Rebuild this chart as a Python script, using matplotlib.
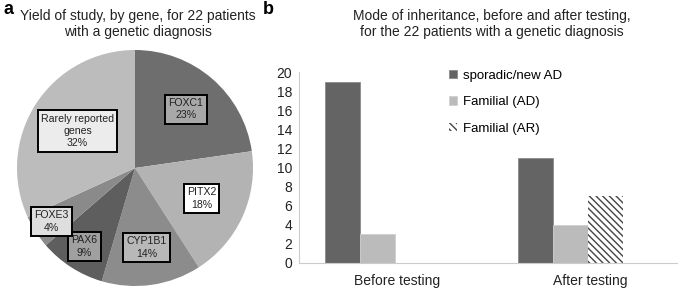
"""Panel a: yield by gene (pie); panel b: mode of inheritance before/after testing."""
import numpy as np
import matplotlib
matplotlib.use("Agg")
import matplotlib.pyplot as plt
from matplotlib import rcParams

rcParams["font.family"] = ["Liberation Sans", "DejaVu Sans"]
rcParams["font.size"] = 10
rcParams["hatch.linewidth"] = 1.0

# panel a data
genes = ["FOXC1", "PITX2", "CYP1B1", "PAX6", "FOXE3", "Rarely reported\ngenes"]
gene_counts = [5, 4, 3, 2, 1, 7]
gene_pct = ["23%", "18%", "14%", "9%", "4%", "32%"]
slice_colors = ["#6e6e6e", "#b3b3b3", "#8c8c8c", "#5e5e5e", "#8a8a8a", "#bcbcbc"]
box_colors = ["#a8a8a8", "#ffffff", "#b8b8b8", "#a0a0a0", "#dedede", "#ececec"]
label_dist = [0.66, 0.62, 0.68, 0.79, 0.84, 0.58]

# panel b data
groups = ["Before testing", "After testing"]
series = ["sporadic/new AD", "Familial (AD)", "Familial (AR)"]
sporadic = [19, 11]
fam_ad = [3, 4]
fam_ar = [0, 7]

W, H = 685, 288
fig = plt.figure(figsize=(W / 100, H / 100), dpi=100)

# ---- a: pie
axa = fig.add_axes([17 / W, 2 / H, 236 / W, 236 / H])
wedges, _ = axa.pie(gene_counts, colors=slice_colors, startangle=90,
                    counterclock=False, radius=1.0,
                    wedgeprops=dict(linewidth=0))
axa.set_xlim(-1, 1)
axa.set_ylim(-1, 1)
axa.set_aspect("equal")
axa.axis("off")
for w, g, p, bc, d in zip(wedges, genes, gene_pct, box_colors, label_dist):
    ang = np.deg2rad((w.theta1 + w.theta2) / 2)
    axa.text(d * np.cos(ang), d * np.sin(ang), f"{g}\n{p}", ha="center",
             va="center", fontsize=7.6, color="#222222", linespacing=1.3,
             bbox=dict(boxstyle="square,pad=0.3", fc=bc, ec="black", lw=1.4))

fig.text(3 / W, 1 - 10 / H, "a", fontsize=13, fontweight="bold", va="center")
fig.text(138 / W, 1 - 24 / H,
         "Yield of study, by gene, for 22 patients\nwith a genetic diagnosis",
         ha="center", va="center", fontsize=10, color="#222222", linespacing=1.15)

# ---- b: bars
axb = fig.add_axes([299 / W, 25 / H, 378 / W, 191 / H])
x = np.arange(len(groups))
w = 0.0925
start = x * 0.51 + 0.07
axb.bar(start, sporadic, w, align="edge", color="#646464", edgecolor="#8a8a8a",
        linewidth=0.6, label=series[0])
axb.bar(start + w, fam_ad, w, align="edge", color="#bbbbbb", edgecolor="#d0d0d0",
        linewidth=0.6, label=series[1])
axb.bar(start + 2 * w, fam_ar, w, align="edge", color="white", edgecolor="#444444",
        linewidth=0, hatch="\\\\\\\\\\", label=series[2])
axb.set_xlim(0, 1)
axb.set_ylim(0, 20)
axb.set_yticks(np.arange(0, 21, 2))
axb.set_xticks(start + 0.19)
axb.set_xticklabels(groups, fontsize=10)
axb.tick_params(length=0, labelsize=10, colors="#222222")
axb.tick_params(axis="x", pad=8)
axb.tick_params(axis="y", pad=5)
for s in ["top", "right"]:
    axb.spines[s].set_visible(False)
axb.spines["left"].set_color("#cccccc")
axb.spines["bottom"].set_color("#cccccc")
axb.legend(frameon=False, loc="upper left", bbox_to_anchor=(0.365, 1.075),
           handlelength=0.6, handleheight=0.6, handletextpad=0.5,
           labelspacing=1.1, fontsize=9.5)

fig.text(263 / W, 1 - 10 / H, "b", fontsize=13, fontweight="bold", va="center")
fig.text(492 / W, 1 - 24 / H,
         "Mode of inheritance, before and after testing,\nfor the 22 patients with a genetic diagnosis",
         ha="center", va="center", fontsize=10, color="#222222", linespacing=1.15)

fig.savefig("out.png", dpi=100)
